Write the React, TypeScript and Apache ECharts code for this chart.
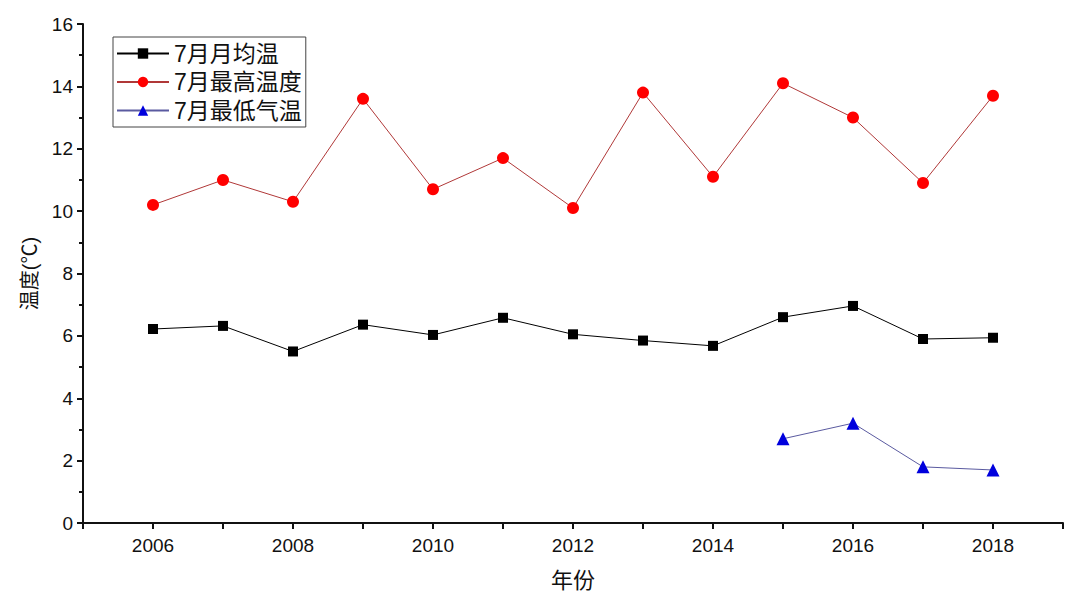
import React, { useEffect, useRef } from "react";
import * as echarts from "echarts";

const years = [2006, 2007, 2008, 2009, 2010, 2011, 2012, 2013, 2014, 2015, 2016, 2017, 2018];
const meanTemp = [6.22, 6.32, 5.5, 6.36, 6.03, 6.58, 6.05, 5.85, 5.68, 6.6, 6.96, 5.9, 5.94];
const maxTemp = [10.2, 11.0, 10.3, 13.6, 10.7, 11.7, 10.1, 13.8, 11.1, 14.1, 13.0, 10.9, 13.7];
const minYears = [2015, 2016, 2017, 2018];
const minTemp = [2.7, 3.2, 1.8, 1.7];

const seriesNames = ["7月月均温", "7月最高温度", "7月最低气温"];

const FONT = "'Liberation Sans', Arial, 'Noto Sans CJK SC', sans-serif";

export default function App() {
  const ref = useRef<HTMLDivElement>(null);
  useEffect(() => {
    document.body.style.margin = "0";
    const chart = echarts.init(ref.current!, undefined, { renderer: "svg" });
    chart.setOption({
      animation: false,
      backgroundColor: "#ffffff",
      grid: { left: 83, right: 17, top: 24, bottom: 84 },
      legend: {
        orient: "vertical",
        left: 113,
        top: 37,
        itemWidth: 52,
        itemHeight: 13,
        itemGap: 5.5,
        padding: [5, 4, 5, 3],
        borderColor: "#444",
        borderWidth: 1,
        textStyle: { fontSize: 23, color: "#111", fontFamily: FONT },
        data: seriesNames,
      },
      xAxis: {
        type: "value",
        min: 2005,
        max: 2019,
        interval: 1,
        name: "年份",
        nameLocation: "middle",
        nameGap: 46,
        nameTextStyle: { fontSize: 22, color: "#111", fontFamily: FONT },
        axisLine: { lineStyle: { color: "#111", width: 2 } },
        axisTick: { show: true, length: 6, lineStyle: { color: "#111", width: 2 } },
        axisLabel: {
          fontSize: 19,
          color: "#111",
          fontFamily: FONT,
          margin: 13,
          formatter: (v: number) => (v % 2 === 0 ? String(v) : ""),
        },
        splitLine: { show: false },
      },
      yAxis: {
        type: "value",
        min: 0,
        max: 16,
        interval: 2,
        name: "温度(℃)",
        nameLocation: "middle",
        nameGap: 43,
        nameTextStyle: { fontSize: 20, color: "#111", fontFamily: FONT },
        axisLine: { show: true, lineStyle: { color: "#111", width: 2 } },
        axisTick: { show: true, length: 6, lineStyle: { color: "#111", width: 2 } },
        minorTick: { show: true, splitNumber: 2, length: 4, lineStyle: { color: "#111", width: 2 } },
        axisLabel: { fontSize: 19, color: "#111", fontFamily: FONT, margin: 10 },
        splitLine: { show: false },
      },
      series: [
        {
          name: seriesNames[0],
          type: "line",
          data: years.map((y, i) => [y, meanTemp[i]]),
          symbol: "rect",
          symbolSize: 10,
          itemStyle: { color: "#000000" },
          lineStyle: { color: "#000000", width: 1 },
        },
        {
          name: seriesNames[1],
          type: "line",
          data: years.map((y, i) => [y, maxTemp[i]]),
          symbol: "circle",
          symbolSize: 12,
          itemStyle: { color: "#ff0000" },
          lineStyle: { color: "#b03838", width: 1 },
        },
        {
          name: seriesNames[2],
          type: "line",
          data: minYears.map((y, i) => [y, minTemp[i]]),
          symbol: "triangle",
          symbolSize: 13,
          itemStyle: { color: "#0000dd" },
          lineStyle: { color: "#5a5aa0", width: 1 },
        },
      ],
    });
    return () => chart.dispose();
  }, []);
  return <div ref={ref} style={{ position: "absolute", left: 0, top: 0, width: 1080, height: 607 }} />;
}
